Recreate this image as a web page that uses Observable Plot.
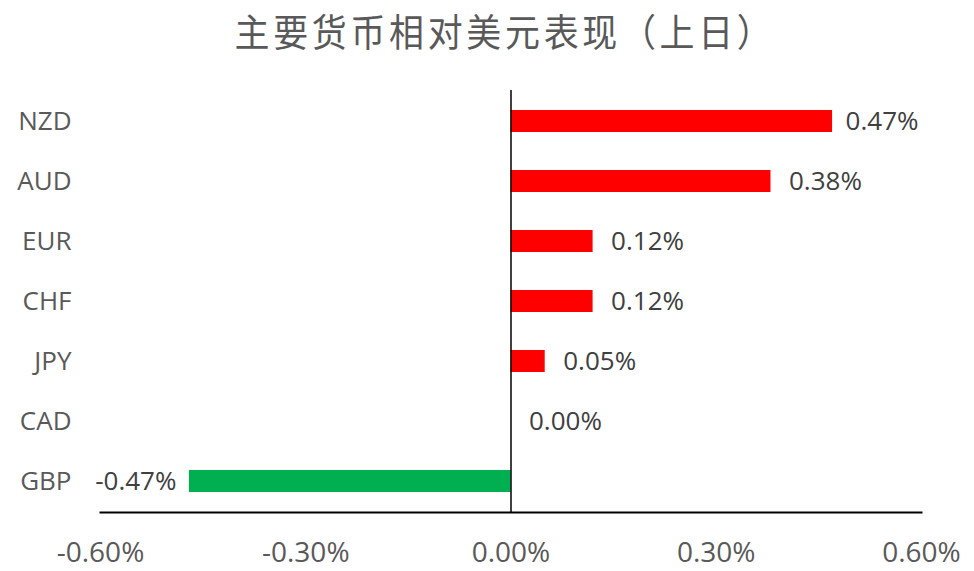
<!DOCTYPE html>
<html>
<head>
<meta charset="utf-8">
<script src="https://cdn.jsdelivr.net/npm/d3@7"></script>
<script src="https://cdn.jsdelivr.net/npm/@observablehq/plot@0.6"></script>
<style>
  html, body { margin: 0; padding: 0; background: #fff; }
  #wrap { position: relative; width: 974px; height: 571px; overflow: hidden; }
  #title {
    position: absolute; left: 505px; top: 8px; white-space: nowrap;
    transform: translateX(-50%) scaleX(0.92); transform-origin: center top;
    font-family: "Noto Sans CJK SC", sans-serif; font-size: 38px; line-height: 44px;
    letter-spacing: 4px; color: #595959;
  }
  svg { display: block; }
</style>
</head>
<body>
<div id="wrap">
  <div id="title"></div>
  <div id="chart"></div>
</div>
<script>
const title = "主要货币相对美元表现（上日）";
const currencies = ["NZD", "AUD", "EUR", "CHF", "JPY", "CAD", "GBP"];
const changes = [0.47, 0.38, 0.12, 0.12, 0.05, 0.00, -0.47];
const xTicks = [-0.6, -0.3, 0, 0.3, 0.6];
const xDomain = [-0.6, 0.6];

document.getElementById("title").textContent = title;

const data = currencies.map((c, i) => ({currency: c, value: changes[i]}));
const fmt = v => v.toFixed(2) + "%";
const overflowLimit = 0.4;

const chart = Plot.plot({
  width: 974,
  height: 571,
  marginTop: 90,
  marginBottom: 59,
  marginLeft: 100,
  marginRight: 53,
  style: {fontFamily: "'Open Sans', sans-serif", background: "#fff"},
  x: {domain: xDomain},
  y: {domain: currencies, paddingInner: 0.635, paddingOuter: 0.315},
  marks: [
    Plot.barX(data, {
      x1: 0, x2: "value", y: "currency",
      fill: d => d.value >= 0 ? "#FF0000" : "#00B050"
    }),
    Plot.ruleX([0], {stroke: "#000", strokeWidth: 1.5}),
    Plot.frame({anchor: "bottom", stroke: "#000", strokeWidth: 2}),
    Plot.axisX({
      ticks: xTicks, tickSize: 0, tickPadding: 30, tickFormat: fmt,
      fontSize: 28, fill: "#595959", label: null
    }),
    Plot.axisY({
      tickSize: 0, tickPadding: 29, fontSize: 26, fill: "#595959", label: null
    }),
    Plot.text(data.filter(d => d.value >= 0 && d.value <= overflowLimit), {
      x: "value", y: "currency", text: d => fmt(d.value),
      textAnchor: "start", dx: 18, fontSize: 26, fill: "#404040"
    }),
    Plot.text(data.filter(d => d.value > overflowLimit), {
      x: xDomain[1], y: "currency", text: d => fmt(d.value),
      textAnchor: "end", dx: -3, fontSize: 26, fill: "#404040"
    }),
    Plot.text(data.filter(d => d.value < 0), {
      x: "value", y: "currency", text: d => fmt(d.value),
      textAnchor: "end", dx: -13, fontSize: 26, fill: "#404040"
    })
  ]
});
document.getElementById("chart").appendChild(chart);
</script>
</body>
</html>
